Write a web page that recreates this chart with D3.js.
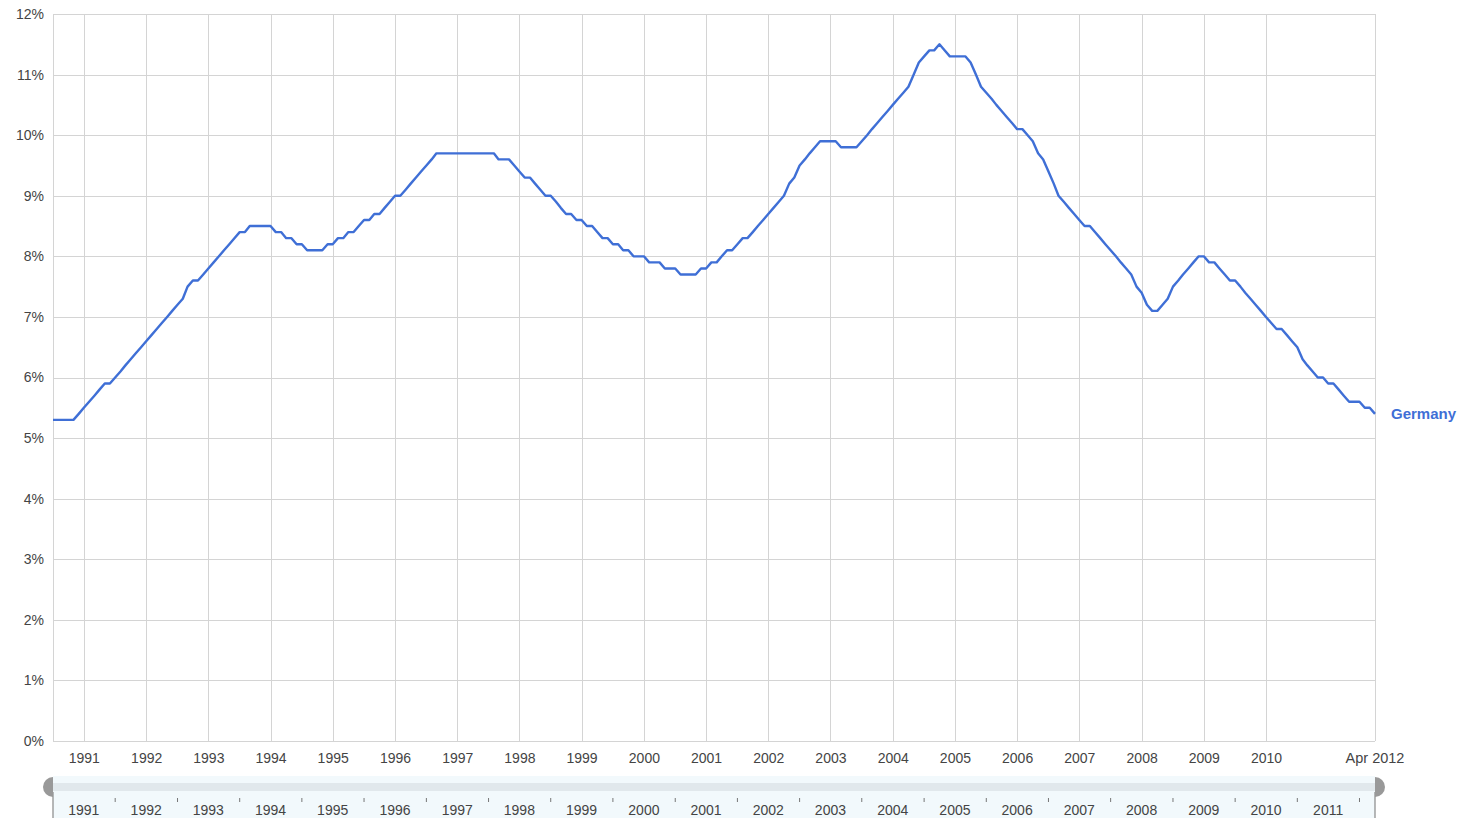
<!DOCTYPE html>
<html>
<head>
<meta charset="utf-8">
<script src="https://cdn.jsdelivr.net/npm/d3@7"></script>
<style>
  html, body { margin: 0; padding: 0; background: #fff; }
  svg { display: block; font-family: Arial, "Liberation Sans", sans-serif; }
</style>
</head>
<body>
<svg id="chart" width="1464" height="818"></svg>
<script>
// ---- Data (monthly unemployment rate, Germany, Jan 1991 – Apr 2012) ----
const seriesName = "Germany";
const startYear = 1991;
const startMonth = 0; // January
const values = [
  5.3,5.3,5.3,5.3,5.3,5.4,5.5,5.6,5.7,5.8,5.9,5.9,
  6.0,6.1,6.2,6.3,6.4,6.5,6.6,6.7,6.8,6.9,7.0,7.1,
  7.2,7.3,7.5,7.6,7.6,7.7,7.8,7.9,8.0,8.1,8.2,8.3,
  8.4,8.4,8.5,8.5,8.5,8.5,8.5,8.4,8.4,8.3,8.3,8.2,
  8.2,8.1,8.1,8.1,8.1,8.2,8.2,8.3,8.3,8.4,8.4,8.5,
  8.6,8.6,8.7,8.7,8.8,8.9,9.0,9.0,9.1,9.2,9.3,9.4,
  9.5,9.6,9.7,9.7,9.7,9.7,9.7,9.7,9.7,9.7,9.7,9.7,
  9.7,9.7,9.6,9.6,9.6,9.5,9.4,9.3,9.3,9.2,9.1,9.0,
  9.0,8.9,8.8,8.7,8.7,8.6,8.6,8.5,8.5,8.4,8.3,8.3,
  8.2,8.2,8.1,8.1,8.0,8.0,8.0,7.9,7.9,7.9,7.8,7.8,
  7.8,7.7,7.7,7.7,7.7,7.8,7.8,7.9,7.9,8.0,8.1,8.1,
  8.2,8.3,8.3,8.4,8.5,8.6,8.7,8.8,8.9,9.0,9.2,9.3,
  9.5,9.6,9.7,9.8,9.9,9.9,9.9,9.9,9.8,9.8,9.8,9.8,
  9.9,10.0,10.1,10.2,10.3,10.4,10.5,10.6,10.7,10.8,11.0,11.2,
  11.3,11.4,11.4,11.5,11.4,11.3,11.3,11.3,11.3,11.2,11.0,10.8,
  10.7,10.6,10.5,10.4,10.3,10.2,10.1,10.1,10.0,9.9,9.7,9.6,
  9.4,9.2,9.0,8.9,8.8,8.7,8.6,8.5,8.5,8.4,8.3,8.2,
  8.1,8.0,7.9,7.8,7.7,7.5,7.4,7.2,7.1,7.1,7.2,7.3,
  7.5,7.6,7.7,7.8,7.9,8.0,8.0,7.9,7.9,7.8,7.7,7.6,
  7.6,7.5,7.4,7.3,7.2,7.1,7.0,6.9,6.8,6.8,6.7,6.6,
  6.5,6.3,6.2,6.1,6.0,6.0,5.9,5.9,5.8,5.7,5.6,5.6,
  5.6,5.5,5.5,5.4
];
const yTicks = [0,1,2,3,4,5,6,7,8,9,10,11,12];
const mainYearLabels = [1991,1992,1993,1994,1995,1996,1997,1998,1999,2000,2001,2002,2003,2004,2005,2006,2007,2008,2009,2010];
const endLabel = "Apr 2012";
const selectorYears = [1991,1992,1993,1994,1995,1996,1997,1998,1999,2000,2001,2002,2003,2004,2005,2006,2007,2008,2009,2010,2011];

const data = values.map((v, i) => ({ date: new Date(startYear, startMonth + i, 1), value: v }));

// ---- Layout ----
const svg = d3.select("#chart");
const L = 53, R = 1375, T = 14, B = 741;
const lineColor = "#3f6fd6";
const gridColor = "#d4d4d4";
const textColor = "#444";

const x = d3.scaleTime()
  .domain([data[0].date, data[data.length - 1].date])
  .range([L, R]);
const y = d3.scaleLinear().domain([0, 12]).range([B, T]);

// horizontal gridlines + y labels
const yAxis = d3.axisLeft(y).tickValues(yTicks).tickSize(-(R - L)).tickFormat(d => d + "%");
const gy = svg.append("g").attr("transform", `translate(${L},0)`).call(yAxis);
gy.select(".domain").remove();
gy.selectAll(".tick line").attr("stroke", gridColor).attr("shape-rendering", "crispEdges");
gy.selectAll(".tick text").attr("x", -9).attr("dy", "0.32em")
  .attr("fill", textColor).style("font-size", "14px");

// vertical gridlines at mid-year + labels
const midYears = mainYearLabels.map(yr => new Date(yr, 6, 1));
const xAxis = d3.axisBottom(x).tickValues(midYears).tickSize(-(B - T)).tickFormat(d => d.getFullYear());
const gx = svg.append("g").attr("transform", `translate(0,${B})`).call(xAxis);
gx.select(".domain").remove();
gx.selectAll(".tick line").attr("stroke", gridColor).attr("shape-rendering", "crispEdges");
gx.selectAll(".tick text").attr("y", 12).attr("dy", "0.71em")
  .attr("fill", textColor).style("font-size", "14px");

// plot frame (left, right)
svg.append("line").attr("x1", L).attr("x2", L).attr("y1", T).attr("y2", B)
  .attr("stroke", gridColor).attr("shape-rendering", "crispEdges");
svg.append("line").attr("x1", R).attr("x2", R).attr("y1", T).attr("y2", B)
  .attr("stroke", gridColor).attr("shape-rendering", "crispEdges");

// end label
svg.append("text").attr("x", x(data[data.length - 1].date)).attr("y", B + 12).attr("dy", "0.71em")
  .attr("text-anchor", "middle").attr("fill", textColor).style("font-size", "14.5px").text(endLabel);

// line
const line = d3.line().x(d => x(d.date)).y(d => y(d.value));
svg.append("path").datum(data)
  .attr("fill", "none").attr("stroke", lineColor).attr("stroke-width", 2.4)
  .attr("stroke-linejoin", "round").attr("d", line);

// series label
const last = data[data.length - 1];
svg.append("text").attr("x", R + 16).attr("y", y(last.value)).attr("dy", "0.35em")
  .attr("fill", lineColor).style("font-size", "15px").style("font-weight", "bold").text(seriesName);

// ---- Range selector ----
const selTop = 776, selBot = 818;
svg.append("rect").attr("x", L).attr("y", selTop).attr("width", R - L).attr("height", selBot - selTop)
  .attr("fill", "#f2f9fc");
svg.append("rect").attr("x", L).attr("y", 783).attr("width", R - L).attr("height", 8)
  .attr("fill", "#e1e8ec");
// side lines
svg.append("line").attr("x1", L).attr("x2", L).attr("y1", 792).attr("y2", selBot)
  .attr("stroke", "#888").attr("stroke-width", 1.2);
svg.append("line").attr("x1", R).attr("x2", R).attr("y1", 792).attr("y2", selBot)
  .attr("stroke", "#888").attr("stroke-width", 1.2);
// handles
const hr = 10, hcy = 787;
svg.append("path").attr("d", `M${L},${hcy - hr} A${hr},${hr} 0 0 0 ${L},${hcy + hr} Z`).attr("fill", "#999");
svg.append("path").attr("d", `M${R},${hcy - hr} A${hr},${hr} 0 0 1 ${R},${hcy + hr} Z`).attr("fill", "#999");

// year boundary ticks
const bounds = selectorYears.slice(1).map(yr => new Date(yr, 0, 1)).concat([new Date(2012, 0, 1)]);
svg.append("g").selectAll("line").data(bounds).join("line")
  .attr("x1", d => x(d)).attr("x2", d => x(d)).attr("y1", 798).attr("y2", 802)
  .attr("stroke", "#777").attr("stroke-width", 1);
// year labels at mid-year
svg.append("g").selectAll("text").data(selectorYears).join("text")
  .attr("x", yr => x(new Date(yr, 6, 1))).attr("y", 815)
  .attr("text-anchor", "middle").attr("fill", textColor).style("font-size", "14px")
  .text(yr => yr);
</script>
</body>
</html>
